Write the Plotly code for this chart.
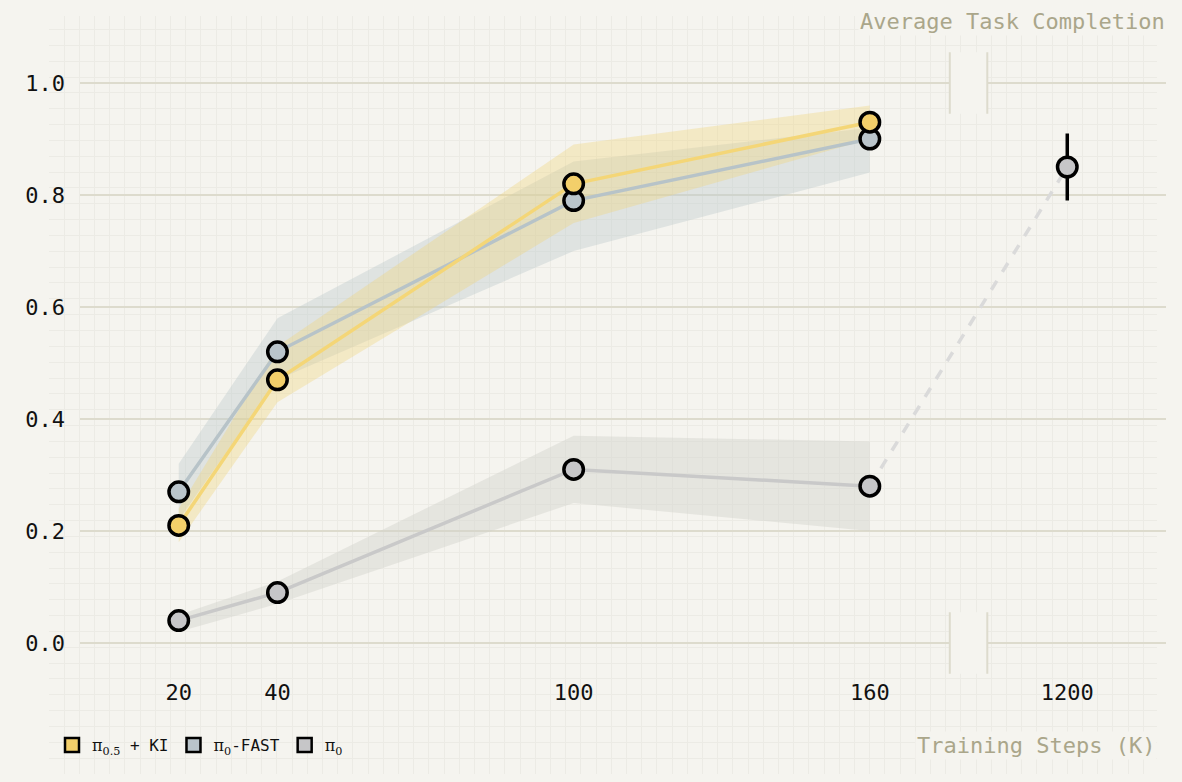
import plotly.graph_objects as go

# %% DATA
steps = [20, 40, 100, 160]

ki_mean = [0.21, 0.47, 0.82, 0.93]
ki_low = [0.18, 0.43, 0.75, 0.90]
ki_high = [0.24, 0.53, 0.89, 0.96]

fast_mean = [0.27, 0.52, 0.79, 0.90]
fast_low = [0.22, 0.47, 0.70, 0.84]
fast_high = [0.32, 0.58, 0.86, 0.92]

pi0_mean = [0.04, 0.09, 0.31, 0.28]
pi0_low = [0.02, 0.07, 0.25, 0.20]
pi0_high = [0.05, 0.11, 0.37, 0.36]

pi0_long_step = 1200
pi0_long_mean = 0.85
pi0_long_err = 0.06

y_ticks = [0.0, 0.2, 0.4, 0.6, 0.8, 1.0]

# broken axis: 1200 is drawn a fixed gap after 160
break_gap = 40
def xpos(step):
    return step if step <= 160 else 160 + break_gap

# %% STYLE
bg = "#F5F4EF"
grid_major = "#DDDBCD"
grid_minor = "#ECEBE5"
title_col = "#AAA68A"
mono = "DejaVu Sans Mono"

yellow = "#F3CF6A"
yellow_line = "#F4D677"
yellow_band = "rgba(240,212,120,0.35)"
blue = "#BAC5CB"
blue_line = "#B7C3C8"
blue_band = "rgba(190,203,205,0.40)"
gray = "#C6C6C8"
gray_line = "#C9C9C9"
gray_band = "rgba(210,210,205,0.45)"

fig = go.Figure()

# background fine grid lives on its own axes (x/y), data on x2/y2
fig.add_trace(go.Scatter(x=[None], y=[None], xaxis="x", yaxis="y", showlegend=False, hoverinfo="skip"))

def band(low, high, color):
    return go.Scatter(x=steps + steps[::-1], y=high + low[::-1], fill="toself", fillcolor=color,
                      line=dict(width=0), mode="lines", xaxis="x2", yaxis="y2",
                      showlegend=False, hoverinfo="skip")

fig.add_trace(band(pi0_low, pi0_high, gray_band))
fig.add_trace(band(fast_low, fast_high, blue_band))
fig.add_trace(band(ki_low, ki_high, yellow_band))

# dashed link to the long-run pi0 point
fig.add_trace(go.Scatter(x=[xpos(steps[-1]), xpos(pi0_long_step)], y=[pi0_mean[-1], pi0_long_mean],
                         mode="lines", line=dict(color="#DADADA", width=3.5, dash="dash"),
                         xaxis="x2", yaxis="y2", showlegend=False, hoverinfo="skip"))

def series(vals, line_col, fill_col):
    return go.Scatter(x=steps, y=vals, mode="lines+markers", xaxis="x2", yaxis="y2",
                      line=dict(color=line_col, width=3.5),
                      marker=dict(size=19.5, color=fill_col, line=dict(color="black", width=3.5)),
                      showlegend=False)

fig.add_trace(series(pi0_mean, gray_line, gray))
fig.add_trace(series(fast_mean, blue_line, blue))
fig.add_trace(series(ki_mean, yellow_line, yellow))

fig.add_trace(go.Scatter(x=[xpos(pi0_long_step)], y=[pi0_long_mean], mode="markers",
                         xaxis="x2", yaxis="y2", showlegend=False,
                         error_y=dict(type="data", array=[pi0_long_err], color="black", thickness=3.5, width=0),
                         marker=dict(size=19.5, color=gray, line=dict(color="black", width=3.5))))

# legend entries
legend_names = ["<span style='font-family:DejaVu Serif'>π<sub>0.5</sub></span> + KI",
                "<span style='font-family:DejaVu Serif'>π<sub>0</sub></span>-FAST",
                "<span style='font-family:DejaVu Serif'>π<sub>0</sub></span>"]
for name, col in zip(legend_names, [yellow, blue, gray]):
    fig.add_trace(go.Scatter(x=[None], y=[None], mode="markers", name=name, xaxis="x2", yaxis="y2",
                             marker=dict(symbol="square", size=14, color=col, line=dict(color="black", width=2.5))))

# axis break marks
bx0, bx1 = 176.2, 183.8
for yc in [0.0, 1.0]:
    fig.add_shape(type="rect", xref="x2", yref="y2", x0=bx0, x1=bx1, y0=yc - 0.055, y1=yc + 0.055,
                  fillcolor=bg, line=dict(width=0), layer="between")
    for bx in [bx0, bx1]:
        fig.add_shape(type="line", xref="x2", yref="y2", x0=bx, x1=bx, y0=yc - 0.055, y1=yc + 0.055,
                      line=dict(color=grid_major, width=2), layer="between")

# page body adds an 8px margin, so figure pixels = screen pixels - 8
W, H = 1166, 766
fig.update_layout(
    width=W, height=H,
    margin=dict(l=0, r=0, t=0, b=0),
    paper_bgcolor=bg, plot_bgcolor="rgba(0,0,0,0)",
    xaxis=dict(domain=[0.035, 0.985], range=[0, W], dtick=16, showgrid=True, gridcolor=grid_minor,
               gridwidth=1, showticklabels=False, zeroline=False, fixedrange=True),
    yaxis=dict(domain=[0.0, 0.99], range=[0, H], dtick=16, showgrid=True, gridcolor=grid_minor,
               gridwidth=1, showticklabels=False, zeroline=False, fixedrange=True),
    xaxis2=dict(domain=[72 / W, 1158 / W], range=[0, 220], anchor="y2",
                tickvals=[xpos(s) for s in steps + [pi0_long_step]],
                ticktext=[str(s) for s in steps + [pi0_long_step]],
                showgrid=False, zeroline=False, showline=False, ticks="",
                tickfont=dict(family=mono, size=22, color="#111111"), ticklabelstandoff=0),
    yaxis2=dict(domain=[(H - 668.6) / H, (H - 41.4) / H], range=[-0.06, 1.06], anchor="x2",
                tickvals=y_ticks, tickformat=".1f", showgrid=True, gridcolor=grid_major, gridwidth=2,
                zeroline=False, showline=False, ticks="",
                tickfont=dict(family=mono, size=22, color="#111111"), ticklabelstandoff=14),
    legend=dict(orientation="h", x=44 / W, y=(H - 737) / H, xanchor="left", yanchor="middle",
                bgcolor="rgba(0,0,0,0)", font=dict(family=mono, size=16, color="#111111"),
                itemwidth=30),
    annotations=[
        dict(text="Average Task Completion", xref="paper", yref="paper", x=1159 / W, y=(H - 13) / H,
             xanchor="right", yanchor="middle", showarrow=False, bgcolor=bg,
             font=dict(family=mono, size=22, color=title_col)),
        dict(text="Training Steps (K)", xref="paper", yref="paper", x=1149 / W, y=(H - 737) / H,
             xanchor="right", yanchor="middle", showarrow=False, bgcolor=bg,
             font=dict(family=mono, size=22, color=title_col)),
    ],
)

fig.write_html("out.html", post_script="document.body.style.backgroundColor='" + bg + "';")
